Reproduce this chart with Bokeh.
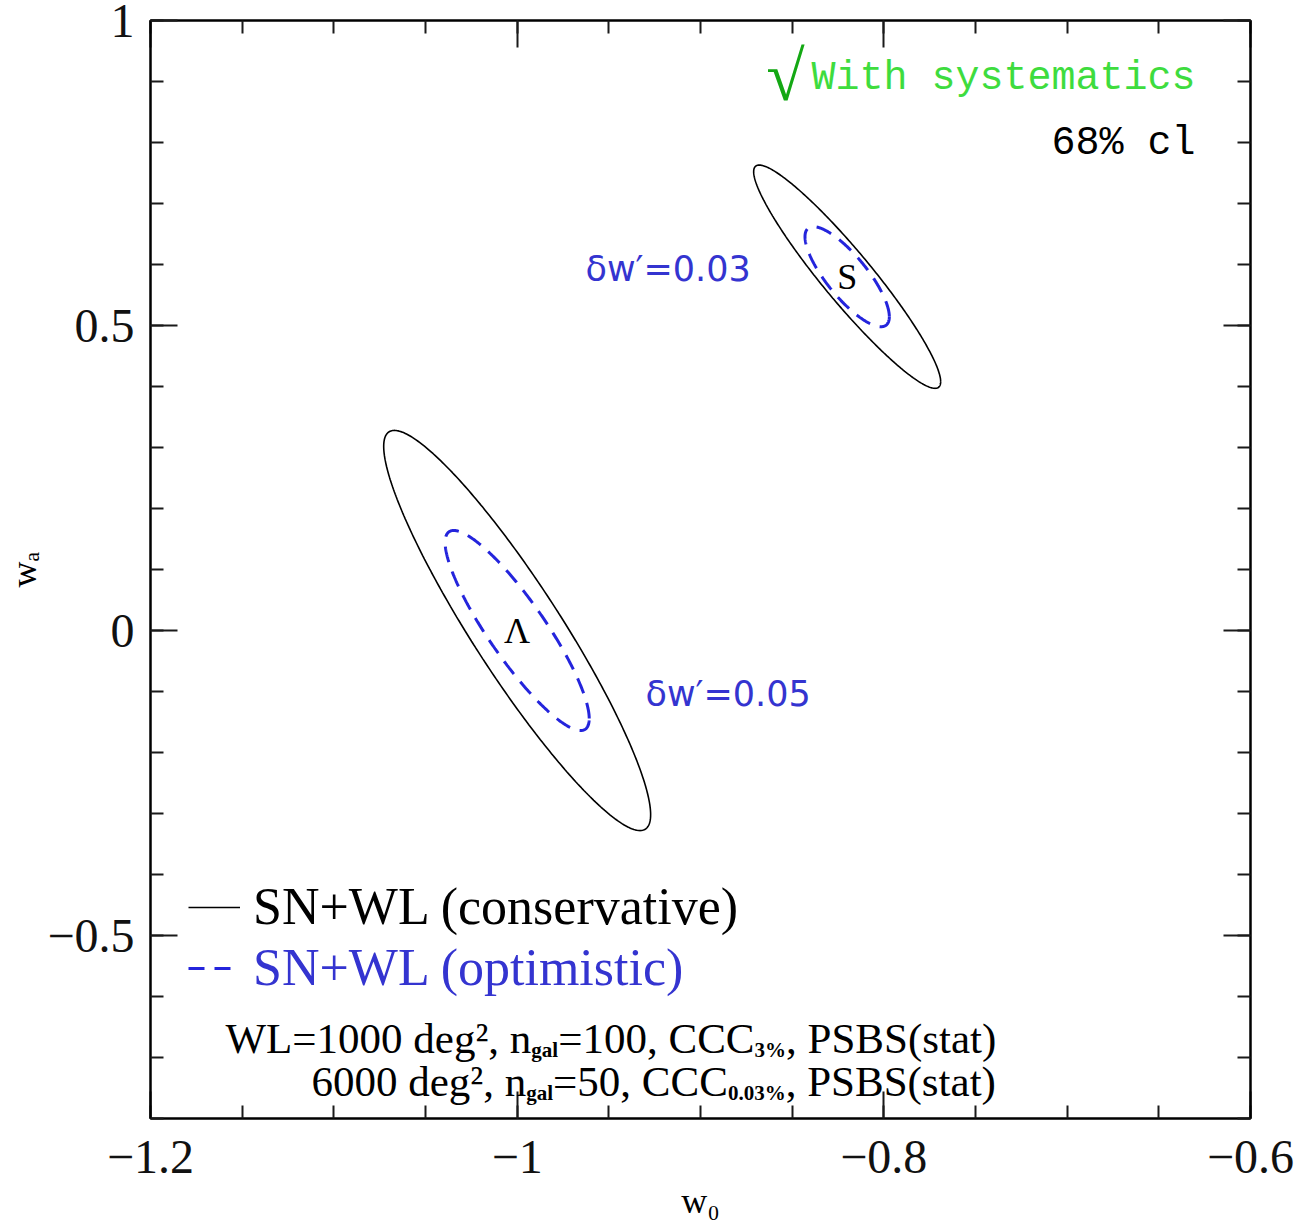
import numpy as np
from bokeh.plotting import figure
from bokeh.models import (FixedTicker, LinearAxis, CustomJSTickFormatter, Label,
                          Legend, LegendItem, Range1d)
from bokeh.core.properties import value
from bokeh.embed import file_html
from bokeh.resources import INLINE

# ---------------------------------------------------------------- data
models = ["Λ", "S"]
centre_w0 = [-1.00, -0.82]
centre_wa = [0.00, 0.58]

# 68% c.l. contours: half-extent along w0 and wa, and the w0-wa correlation
cons_ext_w0 = [0.0728, 0.0510]
cons_ext_wa = [0.328, 0.183]
cons_rho = [-0.92, -0.94]

opt_ext_w0 = [0.0393, 0.0230]
opt_ext_wa = [0.164, 0.082]
opt_rho = [-0.88, -0.80]

dw_labels = ["δw′=0.05", "δw′=0.03"]

x_major = [-1.2, -1.0, -0.8, -0.6]
y_major = [-0.5, 0.0, 0.5, 1.0]

# survey description: (text, is_subscript) runs for each line
survey_1 = [("WL=1000 deg², n", False), ("gal", True), ("=100, CCC", False),
            ("3%", True), (", PSBS(stat)", False)]
survey_2 = [("6000 deg², n", False), ("gal", True), ("=50, CCC", False),
            ("0.03%", True), (", PSBS(stat)", False)]

# ---------------------------------------------------------------- layout
X0, X1, Y0, Y1 = -1.2, -0.6, -0.8, 1.0
LEFT, TOP, FW, FH = 150, 20, 1100, 1098


def fx(px):
    """Horizontal page pixel -> w0."""
    return X0 + (px - LEFT) * (X1 - X0) / FW


def fy(py):
    """Vertical page pixel -> wa."""
    return Y1 - (py - TOP) * (Y1 - Y0) / FH


def contour(cx, cy, ex, ey, rho, n=361):
    t = np.linspace(0.0, 2.0 * np.pi, n)
    x = cx + ex * np.cos(t)
    y = cy + ey * (rho * np.cos(t) + np.sqrt(1.0 - rho ** 2) * np.sin(t))
    return x.tolist(), y.tolist()


# Times-metric advance widths (1/1000 em) for laying out mixed-size runs
ADV = {" ": 250, ",": 250, ".": 250, "=": 564, "(": 333, ")": 333, "%": 833,
       "²": 300, "W": 944, "L": 611, "C": 667, "P": 556, "S": 556, "B": 667,
       "d": 500, "e": 444, "g": 500, "n": 500, "s": 389, "t": 278, "a": 444,
       "l": 278}
ADV_BOLD = {"%": 1000, "a": 500}


def advance(text, size, bold=False):
    total = 0
    for ch in text:
        if bold and ch in ADV_BOLD:
            total += ADV_BOLD[ch]
        else:
            total += ADV.get(ch, 500)
    return total * size / 1000.0


x_minor = [round(X0 + 0.05 * i, 2) for i in range(13)]
y_minor = [round(Y0 + 0.1 * i, 1) for i in range(19)]

SERIF = "Liberation Serif"
MONO = "Liberation Mono"
SANS = "DejaVu Sans"
BLUE = "#2424dc"
BLUE_TXT = "#3434d0"

p = figure(width=1300, height=1226,
           x_range=Range1d(X0, X1), y_range=Range1d(Y0, Y1),
           output_backend="svg", toolbar_location=None,
           min_border_left=LEFT, min_border_right=1300 - LEFT - FW,
           min_border_top=TOP, min_border_bottom=1226 - TOP - FH)
p.grid.visible = False
p.outline_line_color = "black"
p.outline_line_width = 2
p.background_fill_color = "white"
p.border_fill_color = "white"

p.add_layout(LinearAxis(), "above")
p.add_layout(LinearAxis(), "right")

fmt = CustomJSTickFormatter(
    code="return tick < 0 ? '\u2212' + Math.abs(tick) : String(Math.abs(tick));")
blank = CustomJSTickFormatter(code="return '';")

for ax in p.xaxis:
    ax.ticker = FixedTicker(ticks=x_major, minor_ticks=x_minor)
for ax in p.yaxis:
    ax.ticker = FixedTicker(ticks=y_major, minor_ticks=y_minor)

for ax in p.axis:
    ax.major_tick_in = 27
    ax.major_tick_out = 0
    ax.minor_tick_in = 13
    ax.minor_tick_out = 0
    ax.major_tick_line_width = 2
    ax.minor_tick_line_width = 2
    ax.major_tick_line_color = "#1a1a1a"
    ax.minor_tick_line_color = "#1a1a1a"
    ax.axis_line_width = 2
    ax.axis_line_color = "black"

for ax in (p.below[0], p.left[0]):
    ax.formatter = fmt
    ax.major_label_text_font = SERIF
    ax.major_label_text_font_size = "48px"
    ax.major_label_text_color = "#111111"
    ax.axis_label_text_font = SERIF
    ax.axis_label_text_font_size = "36px"
    ax.axis_label_text_font_style = "normal"
    ax.axis_label_text_color = "black"

p.below[0].axis_label = "w₀"
p.below[0].major_label_standoff = 22
p.below[0].axis_label_standoff = 5
p.left[0].axis_label = "wₐ"
p.left[0].major_label_standoff = 16
p.left[0].axis_label_standoff = 0

for ax in (p.above[0], p.right[0]):
    ax.formatter = blank
    ax.major_label_standoff = 0

# ---------------------------------------------------------------- contours
cons_xs, cons_ys, opt_xs, opt_ys = [], [], [], []
for i in range(len(models)):
    x, y = contour(centre_w0[i], centre_wa[i], cons_ext_w0[i], cons_ext_wa[i], cons_rho[i])
    cons_xs.append(x)
    cons_ys.append(y)
    x, y = contour(centre_w0[i], centre_wa[i], opt_ext_w0[i], opt_ext_wa[i], opt_rho[i])
    opt_xs.append(x)
    opt_ys.append(y)

r_cons = p.multi_line(cons_xs, cons_ys, line_color="black", line_width=1.6)
r_opt = p.multi_line(opt_xs, opt_ys, line_color=BLUE, line_width=3, line_dash="16 10")

p.text(x=centre_w0, y=centre_wa, text=models, text_font=value(SERIF),
       text_font_size="36px", text_align="center", text_baseline="middle",
       text_color="black")


def label(px, py, text, font=SERIF, size="40px", color="black", align="left",
          baseline="middle", style="normal"):
    p.add_layout(Label(x=fx(px), y=fy(py), text=text, text_font=font,
                       text_font_size=size, text_color=color, text_align=align,
                       text_baseline=baseline, text_font_style=style))


# contour size annotations
label(645, 693, dw_labels[0], font=SANS, size="35px", color=BLUE_TXT)
label(585, 268, dw_labels[1], font=SANS, size="35px", color=BLUE_TXT)

# top-right annotations
label(785, 76, "√", font=SERIF, size="70px", color="#14a814", align="center")
label(1195, 78, "With systematics", font=MONO, size="40px", color="#3edc3e", align="right")
label(1195, 143, "68% cl", font=MONO, size="40px", color="black", align="right")

# survey description, laid out run by run
MAIN, SUB, DROP = 43, 21, 11
for start, base, runs in [(225, 1038, survey_1), (311, 1081, survey_2)]:
    px = start
    for txt, sub in runs:
        size = SUB if sub else MAIN
        label(px, base + (DROP if sub else 0), txt, size=f"{size}px",
              baseline="alphabetic", style="bold" if sub else "normal")
        px += advance(txt, size, bold=sub)

# ---------------------------------------------------------------- legend
common = dict(padding=0, margin=0, spacing=0, glyph_width=52, glyph_height=20,
              label_standoff=13, label_text_font=SERIF, label_text_font_size="52px",
              background_fill_alpha=0, border_line_alpha=0)
leg_cons = Legend(items=[LegendItem(label=value("SN+WL (conservative)"), renderers=[r_cons])],
                  location=(38, 182), label_text_color="black", **common)
leg_opt = Legend(items=[LegendItem(label=value("SN+WL (optimistic)"), renderers=[r_opt])],
                 location=(38, 121), label_text_color=BLUE_TXT, **common)
p.add_layout(leg_cons)
p.add_layout(leg_opt)

open("out.html", "w").write(file_html(p, INLINE))
